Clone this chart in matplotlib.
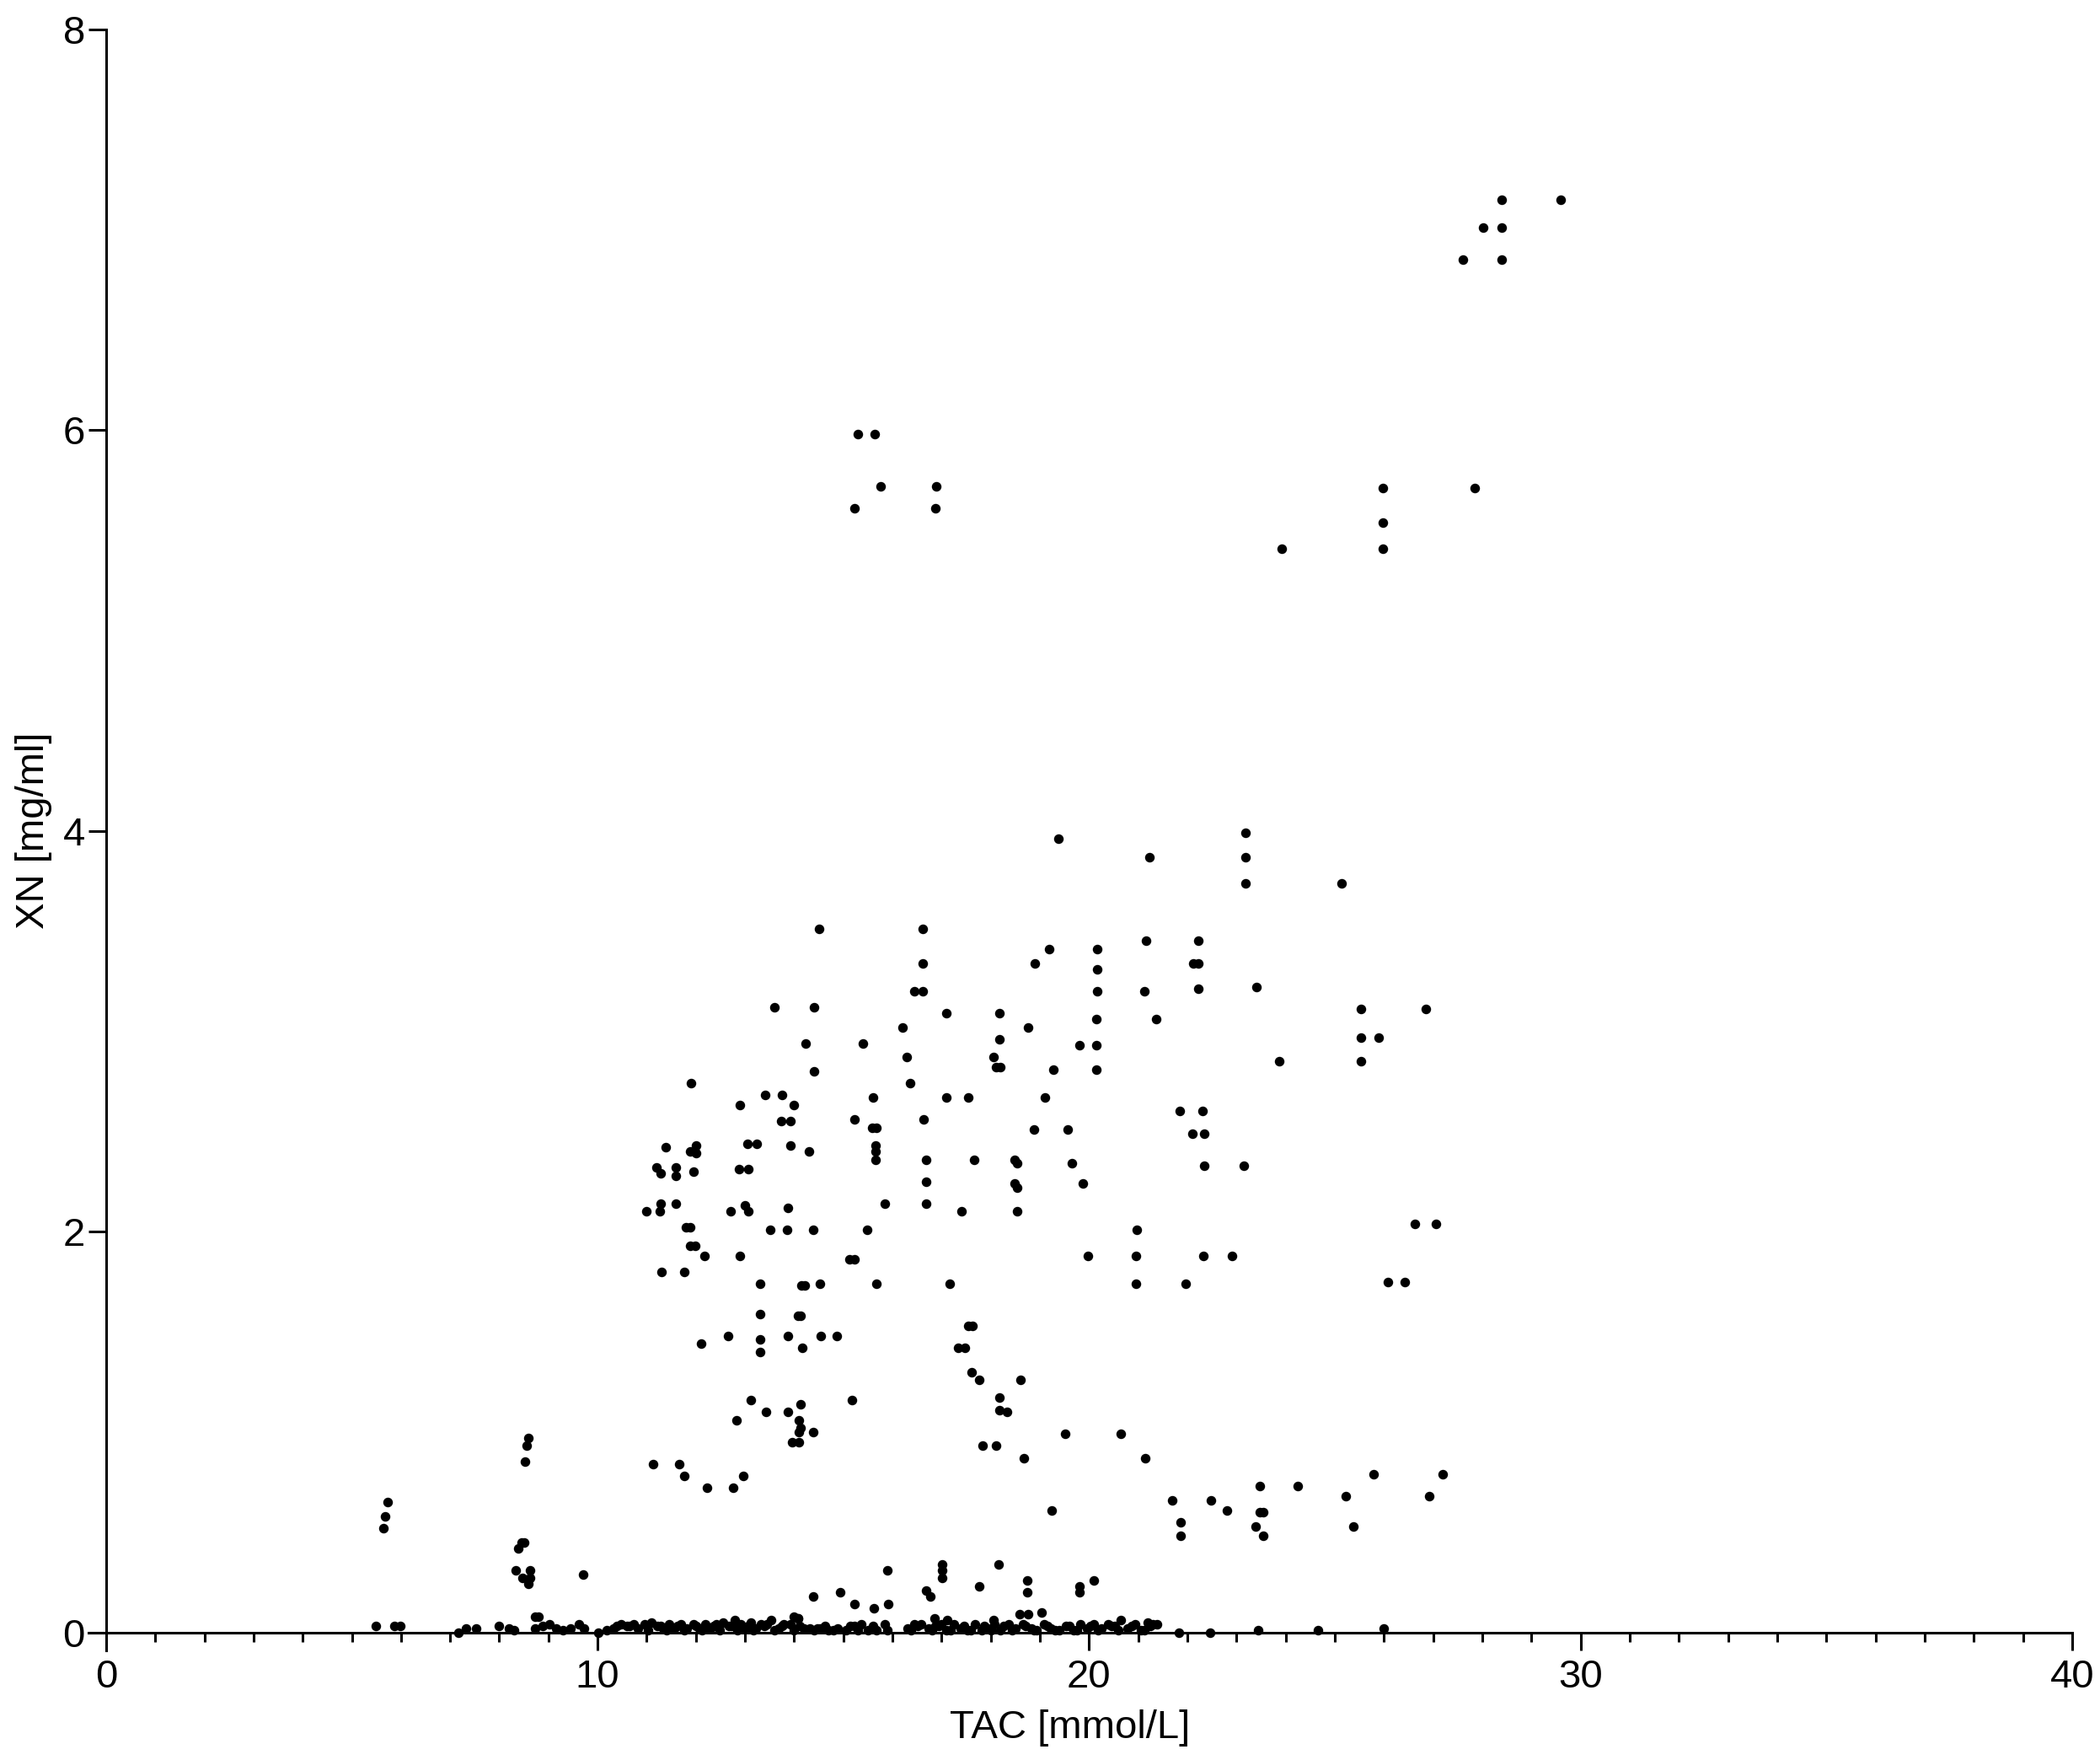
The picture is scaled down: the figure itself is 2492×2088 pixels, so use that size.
import matplotlib
matplotlib.use("Agg")
import matplotlib.pyplot as plt
from matplotlib.ticker import MultipleLocator

plt.rcParams["font.family"] = ["Liberation Sans", "DejaVu Sans"]

# upper points (XN above ~3.6)
tac_high = [28.39, 29.59, 28.01, 28.39, 27.60, 28.39,
            27.85, 25.97, 25.97, 25.97, 23.92,
            15.29, 15.64, 15.75, 15.23, 16.89, 16.87,
            19.37, 21.23, 23.19, 23.19, 23.19, 25.14]
xn_high = [7.15, 7.15, 7.01, 7.01, 6.85, 6.85,
           5.71, 5.71, 5.54, 5.41, 5.41,
           5.98, 5.98, 5.72, 5.61, 5.72, 5.61,
           3.96, 3.87, 3.99, 3.87, 3.74, 3.74]

# left part of the middle cloud (TAC 10-17)
tac_mid_left = [14.51, 16.61, 16.61, 16.44, 16.62, 13.60, 14.41, 16.21, 14.24, 15.39,
                16.29, 14.41, 16.35, 11.90, 13.41, 13.76, 15.60, 12.90, 14.00, 15.23,
                16.64, 13.74, 13.93, 15.58, 15.68, 13.05, 13.23, 13.93, 14.30, 15.65,
                15.65, 15.65, 16.69, 11.39, 11.88, 12.00, 12.00, 11.19, 11.28, 11.60,
                11.60, 11.96, 12.88, 13.06, 16.69, 11.29, 11.60, 10.99, 11.26, 12.70,
                12.99, 13.06, 13.88, 15.84, 16.69, 11.79, 11.88, 13.52, 13.85, 14.39,
                15.49,
                11.88, 11.99, 12.18, 12.89, 15.12, 15.22, 11.30, 11.77, 13.30, 14.14,
                14.22, 14.53, 15.68, 13.30, 14.07, 14.13, 12.65, 13.88, 14.54, 14.86,
                12.10, 13.30, 13.30, 14.16, 13.12, 15.17, 14.13, 13.43, 13.88, 12.83,
                14.10, 14.13, 14.10, 14.39, 13.96, 14.10, 11.13, 11.66, 11.76, 12.96,
                12.22, 12.75]
xn_mid_left = [3.51, 3.51, 3.34, 3.20, 3.20, 3.12, 3.12, 3.02, 2.94, 2.94,
               2.87, 2.80, 2.74, 2.74, 2.68, 2.68, 2.67, 2.63, 2.63, 2.56,
               2.56, 2.55, 2.55, 2.52, 2.52, 2.44, 2.44, 2.43, 2.40, 2.43,
               2.40, 2.36, 2.36, 2.42, 2.40, 2.43, 2.39, 2.32, 2.29, 2.32,
               2.28, 2.30, 2.31, 2.31, 2.25, 2.14, 2.14, 2.10, 2.10, 2.10,
               2.13, 2.10, 2.12, 2.14, 2.14, 2.02, 2.02, 2.01, 2.01, 2.01,
               2.01,
               1.93, 1.93, 1.88, 1.88, 1.86, 1.86, 1.80, 1.80, 1.74, 1.73,
               1.73, 1.74, 1.74, 1.59, 1.58, 1.58, 1.48, 1.48, 1.48, 1.48,
               1.44, 1.46, 1.40, 1.42, 1.16, 1.16, 1.14, 1.10, 1.10, 1.06,
               1.06, 1.02, 1.00, 1.00, 0.95, 0.95, 0.84, 0.84, 0.78, 0.78,
               0.72, 0.72]

# right part of the middle cloud (TAC 17-28)
tac_mid_right = [19.19, 20.16, 21.16, 22.23, 18.90, 20.16, 22.12, 22.23, 20.16, 21.12,
                 22.23, 17.10, 18.18, 20.15, 21.36, 18.76, 18.18, 19.80, 20.15, 18.05,
                 18.11, 18.19, 19.28, 20.15, 17.10, 17.54, 19.11, 21.85, 22.30, 18.88,
                 19.56, 22.10, 22.35, 17.66, 18.48, 18.53, 19.65, 22.35, 23.15, 18.48,
                 18.53, 19.88, 17.40, 18.53, 20.97,
                 19.97, 20.96, 22.33, 22.91, 17.16, 20.96, 21.97, 17.54, 17.63, 17.33,
                 17.48, 17.61, 17.76, 18.61, 18.18, 18.18, 18.33, 19.52, 20.65, 17.83,
                 18.11, 18.67, 21.14, 21.69, 22.48, 22.80, 19.24, 21.86, 21.86,
                 23.41, 25.54, 26.85, 25.54, 25.90, 23.86, 25.54, 26.63, 27.06,
                 26.08, 26.43, 25.79, 27.20, 23.47, 24.24, 25.22, 26.92, 23.47, 23.55,
                 23.39, 25.37, 23.55]
xn_mid_right = [3.41, 3.41, 3.45, 3.45, 3.34, 3.31, 3.34, 3.34, 3.20, 3.20,
                3.21, 3.09, 3.09, 3.06, 3.06, 3.02, 2.96, 2.93, 2.93, 2.87,
                2.82, 2.82, 2.81, 2.81, 2.67, 2.67, 2.67, 2.60, 2.60, 2.51,
                2.51, 2.49, 2.49, 2.36, 2.36, 2.34, 2.34, 2.33, 2.33, 2.24,
                2.22, 2.24, 2.10, 2.10, 2.01,
                1.88, 1.88, 1.88, 1.88, 1.74, 1.74, 1.74, 1.53, 1.53, 1.42,
                1.42, 1.30, 1.26, 1.26, 1.17, 1.11, 1.10, 0.99, 0.99, 0.93,
                0.93, 0.87, 0.87, 0.66, 0.66, 0.61, 0.61, 0.55, 0.48,
                3.22, 3.11, 3.11, 2.97, 2.97, 2.85, 2.85, 2.04, 2.04,
                1.75, 1.75, 0.79, 0.79, 0.73, 0.73, 0.68, 0.68, 0.60, 0.60,
                0.53, 0.53, 0.48]

# low points just above the baseline
tac_low = [5.72, 5.68, 5.64, 8.60, 8.55, 8.52,
           8.45, 8.50, 8.39, 8.34, 8.63, 8.48, 8.62, 8.59, 9.70, 8.73, 8.79,
           14.38, 14.93, 15.22, 15.62, 15.92, 15.90, 16.69, 16.77, 17.01, 17.01,
           17.01, 17.76, 18.16, 18.75, 18.75, 18.59, 18.76, 19.03, 19.80, 19.80,
           20.09, 16.85, 17.12, 14.08, 13.99, 18.05]
xn_low = [0.65, 0.58, 0.52, 0.97, 0.93, 0.85,
          0.45, 0.45, 0.42, 0.31, 0.31, 0.27, 0.27, 0.24, 0.29, 0.08, 0.08,
          0.18, 0.20, 0.14, 0.12, 0.14, 0.31, 0.21, 0.18, 0.34, 0.31,
          0.27, 0.23, 0.34, 0.26, 0.20, 0.09, 0.09, 0.10, 0.23, 0.20,
          0.26, 0.07, 0.06, 0.07, 0.08, 0.06]

# baseline band (XN close to zero)
tac_base = [5.48, 5.86, 5.99, 7.17, 7.33, 7.53, 8.00, 8.19, 8.30,
            8.73, 8.88, 9.02, 9.16, 9.30, 9.45, 9.62, 9.73, 10.01,
            10.19, 10.33, 10.48, 10.59, 10.73, 10.82,
            10.96, 11.10, 11.22, 11.33, 11.45, 11.56, 11.70, 11.82, 11.96, 12.08,
            12.19, 12.30, 12.42, 12.56, 12.68, 12.79, 12.91, 13.02, 13.11, 13.22,
            13.33, 13.45, 13.53, 13.68, 13.79, 13.93, 14.08, 14.19, 14.31, 14.48,
            14.53, 14.70, 14.88, 15.05, 15.22, 15.36, 15.50, 15.68, 15.85, 15.90,
            16.31, 16.45, 16.59, 16.73, 16.88, 16.99, 17.10, 17.25, 17.39, 17.53,
            17.68, 17.82, 17.93, 18.08, 18.19,
            18.36, 18.50, 18.65, 18.82, 18.93, 19.08, 19.22, 19.39, 19.53, 19.68,
            19.82, 19.96, 20.10, 20.25, 20.39, 20.53, 20.65, 20.79, 20.93, 21.05,
            21.19, 21.30, 21.39,
            21.82, 22.47, 23.44, 24.66, 26.00,
            11.03, 11.40, 11.76, 12.13, 12.49, 12.85, 13.17, 13.60, 13.99, 14.40,
            14.80, 15.30, 16.38, 16.80, 17.18, 17.60, 18.00, 18.43, 18.88, 19.30,
            19.75, 20.18, 20.60, 21.12,
            10.40, 10.65, 11.28, 11.62, 12.00, 12.36, 12.72, 13.06, 13.40, 13.75,
            14.12, 14.62, 15.14, 15.60, 16.52, 16.94, 17.45, 17.86, 18.27, 18.70,
            19.15, 19.60, 20.02, 20.46, 20.86, 21.25]
xn_base = [0.03, 0.03, 0.03, 0.00, 0.02, 0.02, 0.03, 0.02, 0.01,
           0.02, 0.03, 0.04, 0.02, 0.01, 0.02, 0.04, 0.02, 0.00,
           0.01, 0.02, 0.04, 0.03, 0.04, 0.02,
           0.04, 0.05, 0.03, 0.02, 0.04, 0.02, 0.04, 0.02, 0.04, 0.02,
           0.04, 0.02, 0.04, 0.05, 0.03, 0.06, 0.04, 0.02, 0.05, 0.02,
           0.04, 0.04, 0.06, 0.02, 0.04, 0.04, 0.07, 0.02, 0.02, 0.02,
           0.02, 0.01, 0.02, 0.01, 0.03, 0.04, 0.01, 0.01, 0.04, 0.01,
           0.02, 0.04, 0.04, 0.02, 0.03, 0.04, 0.01, 0.04, 0.02, 0.01,
           0.04, 0.01, 0.02, 0.04, 0.01,
           0.04, 0.02, 0.04, 0.02, 0.01, 0.04, 0.02, 0.01, 0.03, 0.01,
           0.04, 0.02, 0.04, 0.02, 0.04, 0.03, 0.06, 0.02, 0.04, 0.01,
           0.05, 0.04, 0.04,
           0.00, 0.00, 0.01, 0.01, 0.02,
           0.01, 0.01, 0.01, 0.01, 0.01, 0.01, 0.01, 0.01, 0.01, 0.01,
           0.01, 0.01, 0.01, 0.01, 0.01, 0.01, 0.01, 0.01, 0.01, 0.01,
           0.01, 0.01, 0.01, 0.01,
           0.03, 0.03, 0.03, 0.03, 0.03, 0.03, 0.03, 0.03, 0.03, 0.03,
           0.03, 0.03, 0.03, 0.03, 0.03, 0.03, 0.03, 0.03, 0.03, 0.03,
           0.03, 0.03, 0.03, 0.03, 0.03, 0.03]

tac = tac_high + tac_mid_left + tac_mid_right + tac_low + tac_base
xn = xn_high + xn_mid_left + xn_mid_right + xn_low + xn_base

fig = plt.figure(figsize=(12.46, 10.44), dpi=200)
ax = fig.add_axes([0.0421, 0.0623, 0.9446, 0.921])

ax.scatter(tac, xn, s=17, c="black", linewidths=0, clip_on=False, zorder=3)

# prism style axes: spines crossing at zero, sticking out a little
ax.set_xlim(-0.36, 40)
ax.set_ylim(-0.09, 8)
ax.spines["left"].set_position(("data", 0))
ax.spines["bottom"].set_position(("data", 0))
ax.spines["top"].set_visible(False)
ax.spines["right"].set_visible(False)
for side in ["left", "bottom"]:
    ax.spines[side].set_linewidth(1.1)

ax.set_xticks([0, 10, 20, 30, 40])
ax.xaxis.set_minor_locator(MultipleLocator(1))
ax.set_yticks([0, 2, 4, 6, 8])
ax.tick_params(axis="both", which="major", direction="out", length=7.5, width=1.1,
               labelsize=17)
ax.tick_params(axis="x", which="major", pad=4)
ax.tick_params(axis="y", which="major", pad=1.5)
ax.tick_params(axis="x", which="minor", direction="out", length=4, width=1.1)

fig.text(0.5096, 0.0182, "TAC [mmol/L]", ha="center", va="center", fontsize=17)
fig.text(0.016, 0.528, "XN [mg/ml]", ha="center", va="center", fontsize=17,
         rotation=90)

fig.savefig("out.png", dpi=200)
